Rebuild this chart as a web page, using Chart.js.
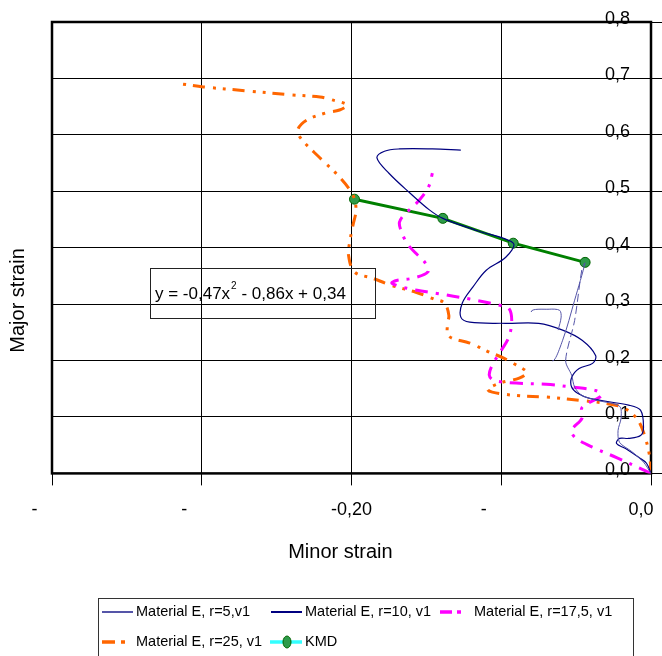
<!DOCTYPE html>
<html>
<head>
<meta charset="utf-8">
<script src="https://cdn.jsdelivr.net/npm/chart.js@4.4.0/dist/chart.umd.min.js"></script>
<style>
html, body { margin: 0; padding: 0; background: #fff; }
</style>
</head>
<body>
<canvas id="flc" width="662" height="656"></canvas>
<script>
// axis ticks
const xTickVals = [-0.4, -0.3, -0.2, -0.1, 0];
const yTickVals = [0, 0.1, 0.2, 0.3, 0.4, 0.5, 0.6, 0.7, 0.8];

// series: minor strain (x) / major strain (y)
const r5X = [0, -0.005, -0.013, -0.021, -0.022, -0.020, -0.021, -0.035, -0.046, -0.051, -0.053, -0.057, -0.051, -0.046, -0.044, -0.051, -0.059, -0.066, -0.080, -0.068, -0.061, -0.060, -0.062];
const r5Y = [0, 0.020, 0.039, 0.055, 0.076, 0.098, 0.119, 0.129, 0.138, 0.153, 0.174, 0.200, 0.271, 0.364, 0.373, 0.307, 0.236, 0.200, 0.286, 0.291, 0.289, 0.277, 0.254];

const r10X = [-0.127, -0.146, -0.168, -0.178, -0.183, -0.175, -0.161, -0.148, -0.139, -0.116, -0.092, -0.097, -0.110, -0.119, -0.126, -0.127, -0.121, -0.097, -0.075, -0.059, -0.046, -0.037, -0.039, -0.048, -0.053, -0.053, -0.049, -0.041, -0.015, -0.007, -0.005, -0.007, -0.015, -0.021, -0.023, -0.017, -0.008, -0.003, 0];
const r10Y = [0.573, 0.575, 0.575, 0.571, 0.559, 0.532, 0.497, 0.467, 0.452, 0.430, 0.408, 0.383, 0.360, 0.330, 0.302, 0.277, 0.268, 0.266, 0.266, 0.254, 0.236, 0.209, 0.195, 0.186, 0.170, 0.153, 0.142, 0.133, 0.121, 0.112, 0.082, 0.067, 0.062, 0.062, 0.053, 0.044, 0.028, 0.018, 0];

const r175X = [0, -0.023, -0.037, -0.050, -0.053, -0.046, -0.046, -0.033, -0.037, -0.053, -0.070, -0.090, -0.105, -0.108, -0.106, -0.100, -0.095, -0.093, -0.095, -0.101, -0.121, -0.143, -0.163, -0.173, -0.170, -0.159, -0.149, -0.151, -0.157, -0.163, -0.167, -0.168, -0.165, -0.158, -0.152, -0.148, -0.146];
const r175Y = [0, 0.028, 0.044, 0.062, 0.076, 0.098, 0.117, 0.138, 0.147, 0.153, 0.158, 0.160, 0.165, 0.174, 0.192, 0.218, 0.241, 0.271, 0.293, 0.298, 0.309, 0.319, 0.328, 0.337, 0.342, 0.346, 0.357, 0.374, 0.390, 0.408, 0.431, 0.445, 0.458, 0.475, 0.493, 0.511, 0.532];

const r25X = [0, -0.001, -0.005, -0.010, -0.019, -0.030, -0.046, -0.068, -0.090, -0.106, -0.109, -0.101, -0.088, -0.083, -0.090, -0.098, -0.108, -0.121, -0.135, -0.136, -0.135, -0.138, -0.145, -0.157, -0.173, -0.186, -0.198, -0.202, -0.201, -0.199, -0.197, -0.199, -0.208, -0.221, -0.233, -0.236, -0.230, -0.217, -0.208, -0.203, -0.213, -0.221, -0.241, -0.270, -0.299, -0.313];
const r25Y = [0, 0.032, 0.073, 0.099, 0.117, 0.124, 0.129, 0.135, 0.138, 0.144, 0.149, 0.160, 0.169, 0.179, 0.192, 0.204, 0.215, 0.231, 0.243, 0.263, 0.280, 0.302, 0.309, 0.321, 0.333, 0.346, 0.357, 0.387, 0.413, 0.440, 0.467, 0.493, 0.525, 0.559, 0.591, 0.608, 0.626, 0.639, 0.644, 0.653, 0.662, 0.667, 0.671, 0.678, 0.685, 0.690];

const kmdX = [-0.198, -0.139, -0.092, -0.044];
const kmdY = [0.486, 0.452, 0.408, 0.374];

const seriesNames = ['Material E, r=5,v1', 'Material E, r=10, v1', 'Material E, r=17,5, v1', 'Material E, r=25, v1', 'KMD'];
const trendText = ['y = -0,47x', '2', ' - 0,86x + 0,34'];

const FONT = "'Liberation Sans', Arial, sans-serif";

function pts(xs, ys) {
    return xs.map((x, i) => ({ x: x, y: ys[i] }));
}

const dashOrange = [12, 7, 3, 7, 3, 8];
const dashMagenta = [13, 8, 3, 8];

// marco, caja de la ecuacion y leyenda
const extras = {
    id: 'extras',
    beforeDatasetsDraw(chart) {
        const a = chart.chartArea;
        const c = chart.ctx;
        c.save();
        c.strokeStyle = '#000';
        c.lineWidth = 2.5;
        c.strokeRect(a.left, a.top, a.right - a.left, a.bottom - a.top);
        c.restore();
    },
    afterDraw(chart) {
        const c = chart.ctx;
        c.save();
        // caja de la tendencia
        c.strokeStyle = '#222';
        c.lineWidth = 1;
        c.strokeRect(150.5, 268.5, 225, 50);
        c.fillStyle = '#000';
        c.textBaseline = 'alphabetic';
        c.font = '17px ' + FONT;
        let tx = 155;
        c.fillText(trendText[0], tx, 299);
        tx += c.measureText(trendText[0]).width + 1;
        c.font = '10px ' + FONT;
        c.fillText(trendText[1], tx, 289);
        tx += c.measureText(trendText[1]).width;
        c.font = '17px ' + FONT;
        c.fillText(trendText[2], tx, 299);

        // leyenda
        c.strokeStyle = '#333';
        c.strokeRect(98.5, 598.5, 535, 70);
        const items = [
            { ds: 0, x0: 102, x1: 133, tx: 136, y: 612 },
            { ds: 1, x0: 271, x1: 302, tx: 305, y: 612 },
            { ds: 2, x0: 440, x1: 462, tx: 474, y: 612 },
            { ds: 3, x0: 102, x1: 128, tx: 136, y: 642 },
            { ds: 4, x0: 270, x1: 302, tx: 305, y: 642 }
        ];
        items.forEach(it => {
            const d = chart.data.datasets[it.ds];
            c.save();
            c.beginPath();
            c.moveTo(it.x0, it.y);
            c.lineTo(it.x1, it.y);
            c.strokeStyle = it.ds === 4 ? '#33ffff' : d.borderColor;
            c.lineWidth = it.ds >= 2 ? 3.5 : 2;
            if (it.ds === 2) c.setLineDash([12, 5, 4, 5]);
            if (it.ds === 3) c.setLineDash([13, 6, 4, 6]);
            c.stroke();
            c.restore();
            if (it.ds === 4) {
                c.beginPath();
                c.ellipse(287, it.y, 4, 6, 0, 0, Math.PI * 2);
                c.fillStyle = d.pointBackgroundColor;
                c.fill();
                c.strokeStyle = d.pointBorderColor;
                c.lineWidth = 1;
                c.stroke();
            }
            c.fillStyle = '#000';
            c.font = '14.5px ' + FONT;
            c.textBaseline = 'middle';
            c.fillText(seriesNames[it.ds], it.tx, it.y);
        });
        c.restore();
    }
};

new Chart(document.getElementById('flc'), {
    type: 'scatter',
    data: {
        datasets: [
            {
                label: seriesNames[0],
                data: pts(r5X, r5Y),
                showLine: true,
                borderColor: '#5555a8',
                borderWidth: 1,
                pointRadius: 0,
                tension: 0.3,
                segment: {
                    borderColor: ctx => ctx.p0DataIndex === 17 ? 'rgba(0,0,0,0)' : undefined,
                    borderDash: ctx => (ctx.p0DataIndex >= 11 && ctx.p0DataIndex <= 13) ? [8, 4] : undefined
                }
            },
            {
                label: seriesNames[1],
                data: pts(r10X, r10Y),
                showLine: true,
                borderColor: '#000080',
                borderWidth: 1.2,
                pointRadius: 0,
                tension: 0.35
            },
            {
                label: seriesNames[2],
                data: pts(r175X, r175Y),
                showLine: true,
                borderColor: '#ff00ff',
                borderWidth: 3,
                borderDash: dashMagenta,
                pointRadius: 0,
                tension: 0.35
            },
            {
                label: seriesNames[3],
                data: pts(r25X, r25Y),
                showLine: true,
                borderColor: '#ff6600',
                borderWidth: 3,
                borderDash: dashOrange,
                pointRadius: 0,
                tension: 0.35
            },
            {
                label: seriesNames[4],
                data: pts(kmdX, kmdY),
                showLine: true,
                borderColor: '#008000',
                borderWidth: 3,
                pointRadius: 5,
                pointBackgroundColor: '#2e9a4a',
                pointBorderColor: '#006400',
                pointBorderWidth: 1,
                tension: 0
            }
        ]
    },
    options: {
        responsive: false,
        animation: false,
        devicePixelRatio: 1,
        layout: { padding: { left: 0, top: 22, right: 0, bottom: 92 } },
        plugins: {
            legend: { display: false },
            tooltip: { enabled: false }
        },
        scales: {
            x: {
                type: 'linear',
                min: -0.4,
                max: 0,
                afterBuildTicks: axis => { axis.ticks = xTickVals.map(v => ({ value: v })); },
                // las etiquetas pueden salirse por los lados
                afterFit: axis => { axis.paddingLeft = 0; axis.paddingRight = 0; },
                grid: { color: '#000', lineWidth: 1, tickLength: 12 },
                border: { display: false },
                ticks: {
                    autoSkip: false,
                    maxRotation: 0,
                    padding: 14,
                    labelOffset: -10,
                    color: '#000',
                    font: { family: FONT, size: 18 },
                    callback: v => {
                        if (Math.abs(v) < 1e-9) return '0,0';
                        if (Math.abs(v + 0.2) < 1e-9) return '    -0,20';
                        return '-   ';
                    }
                },
                title: {
                    display: true,
                    text: 'Minor strain    ',
                    color: '#000',
                    font: { family: FONT, size: 20 },
                    padding: { top: 5, bottom: 0 }
                }
            },
            y: {
                type: 'linear',
                position: 'right',
                min: 0,
                max: 0.8,
                afterBuildTicks: axis => { axis.ticks = yTickVals.map(v => ({ value: v })); },
                afterFit: axis => { axis.width = 11; },
                grid: { color: '#000', lineWidth: 1, tickLength: 11 },
                border: { display: false },
                ticks: {
                    mirror: true,
                    padding: -21,
                    labelOffset: -3,
                    color: '#000',
                    font: { family: FONT, size: 18 },
                    callback: v => v.toFixed(1).replace('.', ',')
                }
            },
            yl: {
                type: 'linear',
                position: 'left',
                min: 0,
                max: 0.8,
                grid: { display: false, drawTicks: false },
                border: { display: false },
                ticks: { display: false },
                title: {
                    display: true,
                    text: 'Major strain                   ',
                    color: '#000',
                    font: { family: FONT, size: 20 },
                    padding: { top: 6, bottom: 22 }
                }
            }
        }
    },
    plugins: [extras]
});
</script>
</body>
</html>
